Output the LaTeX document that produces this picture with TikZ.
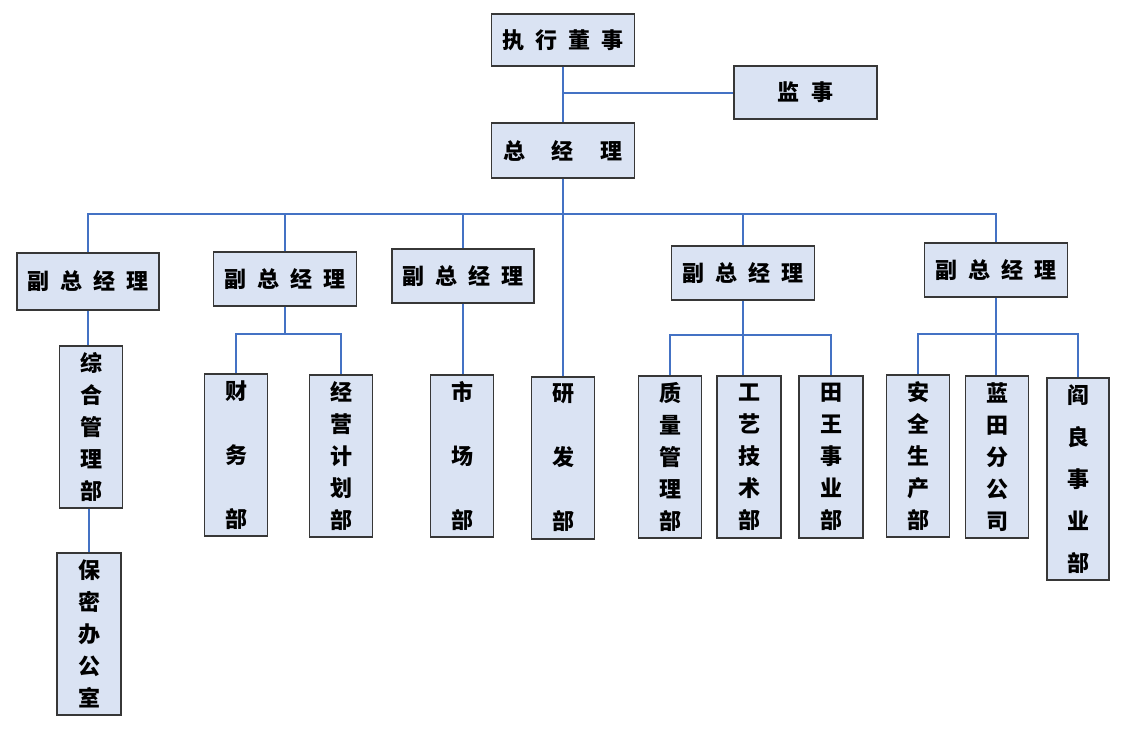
\documentclass[tikz,border=0pt]{standalone}
\usepackage{fontspec}
\newfontfamily\cjk{Noto Sans CJK SC}
\definecolor{boxfill}{RGB}{218,227,243}
\definecolor{boxline}{RGB}{55,55,55}
\definecolor{linkblue}{RGB}{68,114,196}
\newcommand{\gp}[1]{\hspace{#1pt}}
\tikzset{
  orgbox/.style={draw=boxline, line width=1.1pt, fill=boxfill, inner sep=0pt, align=center,
    font={\cjk\bfseries\fontsize{22}{32}\selectfont}},
  hbox/.style={orgbox, minimum width=143pt, minimum height=54pt},
  vbox/.style={orgbox, minimum width=63pt, minimum height=162pt},
  wide/.style={font={\cjk\bfseries\fontsize{22}{64}\selectfont}},
  mid/.style={font={\cjk\bfseries\fontsize{22}{42}\selectfont}},
  link/.style={draw=linkblue, line width=1.1pt}
}
\begin{document}
\begin{tikzpicture}[x=1pt,y=-1pt]
\useasboundingbox (0,0) rectangle (1130,733);
% top level
\node[hbox, minimum height=52pt] (exec) at (563,40) {执\gp{11}行\gp{11}董\gp{11}事};
\node[hbox, minimum height=53pt] (sup) at (805.5,92.5) {监\gp{13}事};
\node[hbox, minimum height=55pt] (gm) at (563,150.5) {总\gp{27}经\gp{27}理};
% vice managers
\node[hbox, minimum width=142pt, minimum height=57pt] (vp1) at (88,281.5) {副\gp{11}总\gp{11}经\gp{11}理};
\node[hbox] (vp2) at (285,279) {副\gp{11}总\gp{11}经\gp{11}理};
\node[hbox, minimum width=142pt] (vp3) at (463,276) {副\gp{11}总\gp{11}经\gp{11}理};
\node[hbox] (vp4) at (743,273) {副\gp{11}总\gp{11}经\gp{11}理};
\node[hbox] (vp5) at (996,270) {副\gp{11}总\gp{11}经\gp{11}理};
% departments
\node[vbox] (zh) at (91,427) {综\\合\\管\\理\\部};
\node[vbox, minimum width=64pt] (bm) at (89,634) {保\\密\\办\\公\\室};
\node[vbox, wide] (cw) at (236,455) {财\\务\\部};
\node[vbox] (jy) at (341,456) {经\\营\\计\\划\\部};
\node[vbox, wide] (sc) at (462,456) {市\\场\\部};
\node[vbox, wide] (yf) at (563,458) {研\\发\\部};
\node[vbox] (zl) at (670,457) {质\\量\\管\\理\\部};
\node[vbox, minimum width=64pt] (gy) at (749,457) {工\\艺\\技\\术\\部};
\node[vbox, minimum width=64pt] (tw) at (831,457) {田\\王\\事\\业\\部};
\node[vbox] (aq) at (918,456) {安\\全\\生\\产\\部};
\node[vbox] (lt) at (997,457) {蓝\\田\\分\\公\\司};
\node[vbox, mid, minimum width=62pt, minimum height=202pt] (yl) at (1078,479) {阎\\良\\事\\业\\部};
% bus coordinates
\coordinate (supj) at (563,93);
\coordinate (bus) at (563,214);
\coordinate (b2) at (285,334);
\coordinate (b4) at (743,335);
\coordinate (b5) at (996,334);
% connectors
\draw[link] (exec.south) -- (gm.north);
\draw[link] (supj) -- (supj -| sup.west);
\draw[link] (gm.south) -- (yf.north);
\draw[link] (vp1.north) |- (bus) -| (vp5.north);
\draw[link] (vp2.north) -- (vp2.north |- bus);
\draw[link] (vp3.north) -- (vp3.north |- bus);
\draw[link] (vp4.north) -- (vp4.north |- bus);
\draw[link] (vp1.south) -- (vp1.south |- zh.north);
\draw[link] (zh.south -| bm.north) -- (bm.north);
\draw[link] (vp2.south) -- (b2);
\draw[link] (cw.north) |- (b2) -| (jy.north);
\draw[link] (vp3.south) -- (vp3.south |- sc.north);
\draw[link] (vp4.south) -- (gy.north -| vp4.south);
\draw[link] (zl.north) |- (b4) -| (tw.north);
\draw[link] (vp5.south) -- (lt.north -| vp5.south);
\draw[link] (aq.north) |- (b5) -| (yl.north);
\end{tikzpicture}
\end{document}
